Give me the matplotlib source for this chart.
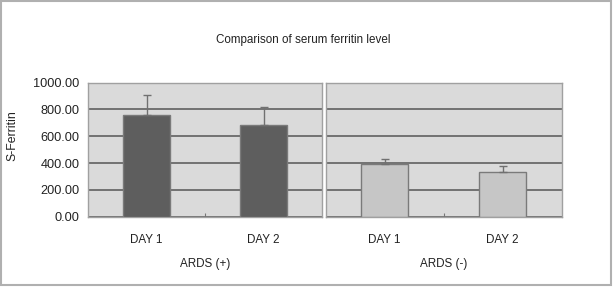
import matplotlib
matplotlib.use("Agg")
import matplotlib.pyplot as plt
from matplotlib.patches import Rectangle

plt.rcParams['font.family'] = ['Liberation Sans', 'DejaVu Sans']

title = "Comparison of serum ferritin level"
ylabel = "S-Ferritin"
groups = ["ARDS (+)", "ARDS (-)"]
days = ["DAY 1", "DAY 2"]
ards_pos = [757, 687]
ards_pos_err = [149, 132]
ards_neg = [391, 331]
ards_neg_err = [42, 47]
yticks = [0, 200, 400, 600, 800, 1000]

W, H = 613, 287
fig = plt.figure(figsize=(W / 100, H / 100), dpi=100)
fig.patch.set_facecolor("white")

# outer frame
fig.add_artist(Rectangle((0.5 / W, 1 - 285 / H), 610 / W, 284 / H,
                         transform=fig.transFigure, fill=False,
                         edgecolor="#b0b0b0", linewidth=1.5))

bottom = 1 - 216.7 / H
height = 134 / H
ax1 = fig.add_axes([88 / W, bottom, 234.3 / W, height])
ax2 = fig.add_axes([325.7 / W, bottom, 236 / W, height])

panels = [(ax1, ards_pos, ards_pos_err, "#5e5e5e"),
          (ax2, ards_neg, ards_neg_err, "#c6c6c6")]

for ax, vals, errs, col in panels:
    ax.set_facecolor("#dadada")
    ax.set_xlim(-0.5, 1.5)
    ax.set_ylim(0, 1000)
    ax.set_yticks(yticks)
    ax.yaxis.grid(True, color="#6a6a6a", linewidth=1.3)
    ax.set_axisbelow(True)
    ax.bar([0, 1], vals, width=0.4, color=col, edgecolor="#7a7a7a",
           linewidth=1.0, zorder=3)
    ax.errorbar([0, 1], vals, yerr=[[0, 0], errs], fmt="none",
                ecolor="#707070", elinewidth=1.0, capsize=3, capthick=1.0,
                zorder=4)
    ax.set_xticks([0.5])
    ax.set_xticklabels([""])
    ax.tick_params(axis="x", length=3, color="#777777", direction="in")
    for s in ax.spines.values():
        s.set_color("#a0a0a0")
        s.set_linewidth(1.0)

ax1.set_yticklabels([f"{v:.2f}" for v in yticks], fontsize=9.2, color="#222222")
ax1.tick_params(axis="y", length=0, pad=6)
ax2.set_yticklabels([])
ax2.tick_params(axis="y", length=0)

fig.text(12.5 / W, 1 - 136 / H, ylabel, rotation=90, ha="center", va="center",
         fontsize=8.8, color="#222222")

# category labels under each bar, group label under each panel
for ax, g in zip([ax1, ax2], groups):
    for i, d in enumerate(days):
        ax.text(i, -0.175, d, transform=ax.get_xaxis_transform(),
                ha="center", va="center", fontsize=8.4, color="#222222")
    ax.text(0.5, -0.35, g, transform=ax.get_xaxis_transform(),
            ha="center", va="center", fontsize=8.4, color="#222222")

fig.text(303 / W, 1 - 40 / H, title, ha="center", va="center",
         fontsize=8.4, color="#222222")

fig.savefig("out.png", dpi=100)
